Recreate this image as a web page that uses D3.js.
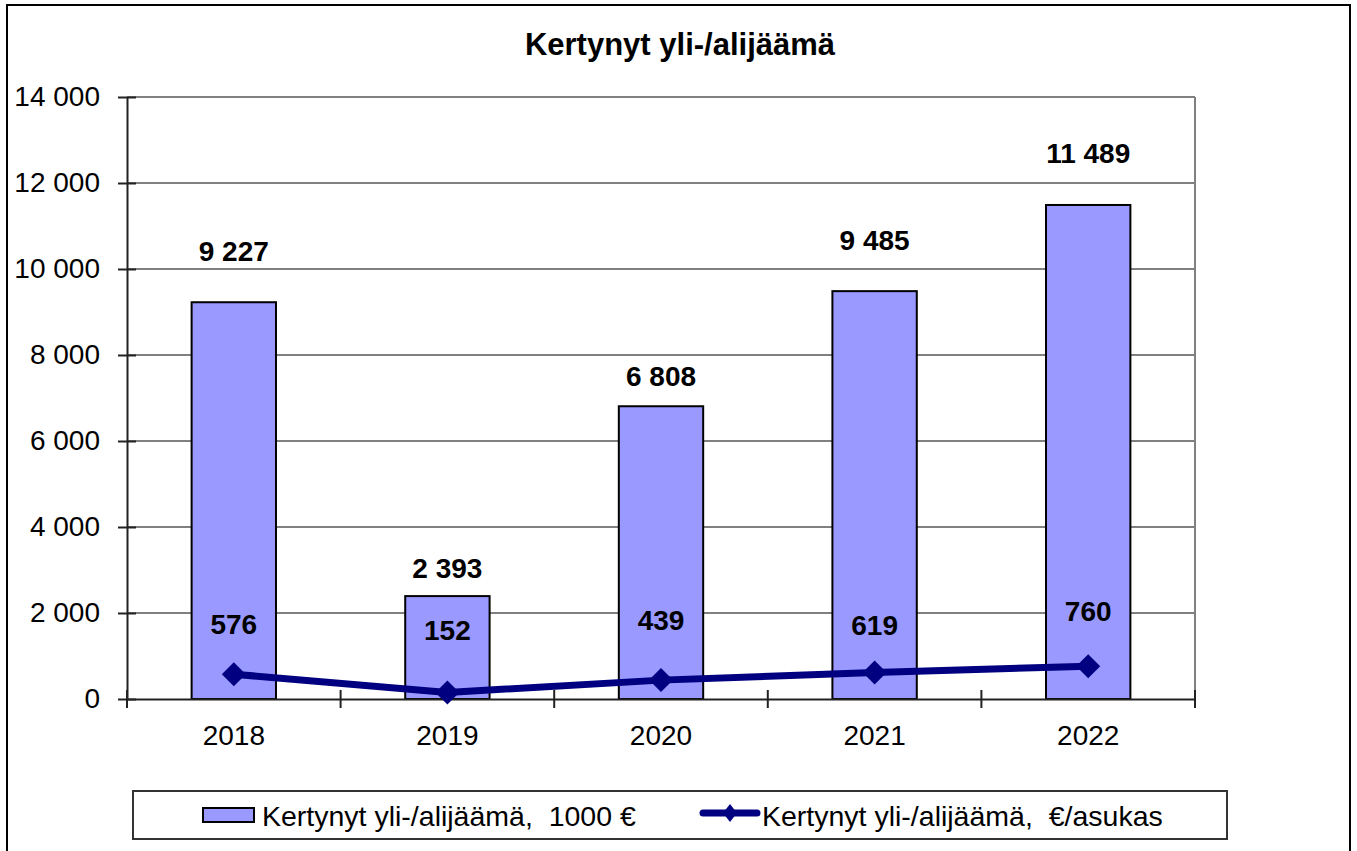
<!DOCTYPE html>
<html>
<head>
<meta charset="utf-8">
<script src="https://cdn.jsdelivr.net/npm/d3@7"></script>
<style>
  html, body { margin: 0; padding: 0; background: #fff; }
  svg { display: block; font-family: Arial, "Liberation Sans", sans-serif; }
  text { white-space: pre; }
</style>
</head>
<body>
<svg id="chart" width="1357" height="851"></svg>
<script>
const title = "Kertynyt yli-/alijäämä";
const categories = ["2018", "2019", "2020", "2021", "2022"];
const barValues = [9227, 2393, 6808, 9485, 11489];
const lineValues = [576, 152, 439, 619, 760];
const yTicks = [0, 2000, 4000, 6000, 8000, 10000, 12000, 14000];
const barSeriesName = "Kertynyt yli-/alijäämä,  1000 €";
const lineSeriesName = "Kertynyt yli-/alijäämä,  €/asukas";

// label placement gaps (layout only, as in the original)
const barLabelGap = [41, 18, 20, 41, 42];
const lineLabelGap = [40, 52, 50, 37, 45];

const fmt = v => d3.format(",")(v).replace(/,/g, " ");

const svg = d3.select("#chart");
const plot = { left: 127, right: 1195, top: 97, bottom: 699 };

// outer frame
svg.append("rect").attr("x", 7).attr("y", 5).attr("width", 1343).attr("height", 870)
  .attr("fill", "#fff").attr("stroke", "#000").attr("stroke-width", 2);

const x = d3.scaleBand().domain(categories).range([plot.left, plot.right]).padding(0);
const y = d3.scaleLinear().domain([0, 14000]).range([plot.bottom, plot.top]);

// gridlines
svg.append("g").selectAll("line").data(yTicks.filter(d => d > 0)).join("line")
  .attr("x1", plot.left).attr("x2", plot.right)
  .attr("y1", d => y(d)).attr("y2", d => y(d))
  .attr("stroke", "#808080").attr("stroke-width", 2);
// right plot border
svg.append("line").attr("x1", plot.right).attr("x2", plot.right)
  .attr("y1", plot.top).attr("y2", plot.bottom)
  .attr("stroke", "#808080").attr("stroke-width", 2);

// bars
const bw = x.bandwidth() * 0.395;
svg.append("g").selectAll("rect").data(categories).join("rect")
  .attr("x", (d) => x(d) + x.bandwidth() / 2 - bw / 2)
  .attr("y", (d, i) => y(barValues[i]))
  .attr("width", bw)
  .attr("height", (d, i) => y(0) - y(barValues[i]))
  .attr("fill", "#9999FF").attr("stroke", "#000").attr("stroke-width", 2);

// y axis
const yAxis = d3.axisLeft(y).tickValues(yTicks).tickFormat(fmt).tickSize(0).tickPadding(27);
const gy = svg.append("g").attr("transform", `translate(${plot.left},0)`).call(yAxis);
gy.select(".domain").attr("stroke", "#222").attr("stroke-width", 2);
gy.selectAll(".tick text").attr("font-size", 28).attr("fill", "#000")
  .attr("font-family", "Arial, 'Liberation Sans', sans-serif");
gy.selectAll(".tick").append("line").attr("x1", -9).attr("x2", 9)
  .attr("stroke", "#222").attr("stroke-width", 2);

// x axis
const xAxis = d3.axisBottom(x).tickSize(0).tickPadding(26);
const gx = svg.append("g").attr("transform", `translate(0,${plot.bottom})`).call(xAxis);
gx.select(".domain").attr("stroke", "#222").attr("stroke-width", 2);
gx.selectAll(".tick text").attr("font-size", 28).attr("fill", "#000")
  .attr("font-family", "Arial, 'Liberation Sans', sans-serif");
const bounds = categories.map(c => x(c)).concat([x(categories[categories.length - 1]) + x.bandwidth()]);
gx.append("g").selectAll("line").data(bounds).join("line")
  .attr("x1", d => d).attr("x2", d => d).attr("y1", -9).attr("y2", 9)
  .attr("stroke", "#222").attr("stroke-width", 2);

// bar labels
svg.append("g").selectAll("text").data(categories).join("text")
  .attr("x", d => x(d) + x.bandwidth() / 2)
  .attr("y", (d, i) => y(barValues[i]) - barLabelGap[i])
  .attr("text-anchor", "middle").attr("font-size", 28).attr("font-weight", "bold")
  .text((d, i) => fmt(barValues[i]));

// line
const cx = d => x(d) + x.bandwidth() / 2;
const line = d3.line().x((d, i) => cx(categories[i])).y(d => y(d));
svg.append("path").datum(lineValues).attr("d", line)
  .attr("fill", "none").attr("stroke", "#000080").attr("stroke-width", 7)
  .attr("stroke-linejoin", "round");
const diamond = (s) => `M0,${-s}L${s},0L0,${s}L${-s},0Z`;
svg.append("g").selectAll("path").data(lineValues).join("path")
  .attr("transform", (d, i) => `translate(${cx(categories[i])},${y(d)})`)
  .attr("d", diamond(12)).attr("fill", "#000080");

// line labels
svg.append("g").selectAll("text").data(lineValues).join("text")
  .attr("x", (d, i) => cx(categories[i]))
  .attr("y", (d, i) => y(d) - lineLabelGap[i])
  .attr("text-anchor", "middle").attr("font-size", 28).attr("font-weight", "bold")
  .text(d => fmt(d));

// title
svg.append("text").attr("x", 680).attr("y", 55).attr("text-anchor", "middle")
  .attr("font-size", 31).attr("font-weight", "bold").text(title);

// legend
const lg = svg.append("g");
lg.append("rect").attr("x", 133).attr("y", 791).attr("width", 1094).attr("height", 48)
  .attr("fill", "#fff").attr("stroke", "#333").attr("stroke-width", 2);
lg.append("rect").attr("x", 203).attr("y", 808).attr("width", 51).attr("height", 14)
  .attr("fill", "#9999FF").attr("stroke", "#000").attr("stroke-width", 2);
lg.append("text").attr("x", 262).attr("y", 826).attr("font-size", 28.5).text(barSeriesName);
lg.append("line").attr("x1", 703).attr("x2", 757).attr("y1", 813).attr("y2", 813)
  .attr("stroke", "#000080").attr("stroke-width", 7).attr("stroke-linecap", "round");
lg.append("path").attr("transform", "translate(730,813)")
  .attr("d", "M0,-9L7,0L0,9L-7,0Z").attr("fill", "#000080");
lg.append("text").attr("x", 762).attr("y", 826).attr("font-size", 28.5).text(lineSeriesName);
</script>
</body>
</html>
